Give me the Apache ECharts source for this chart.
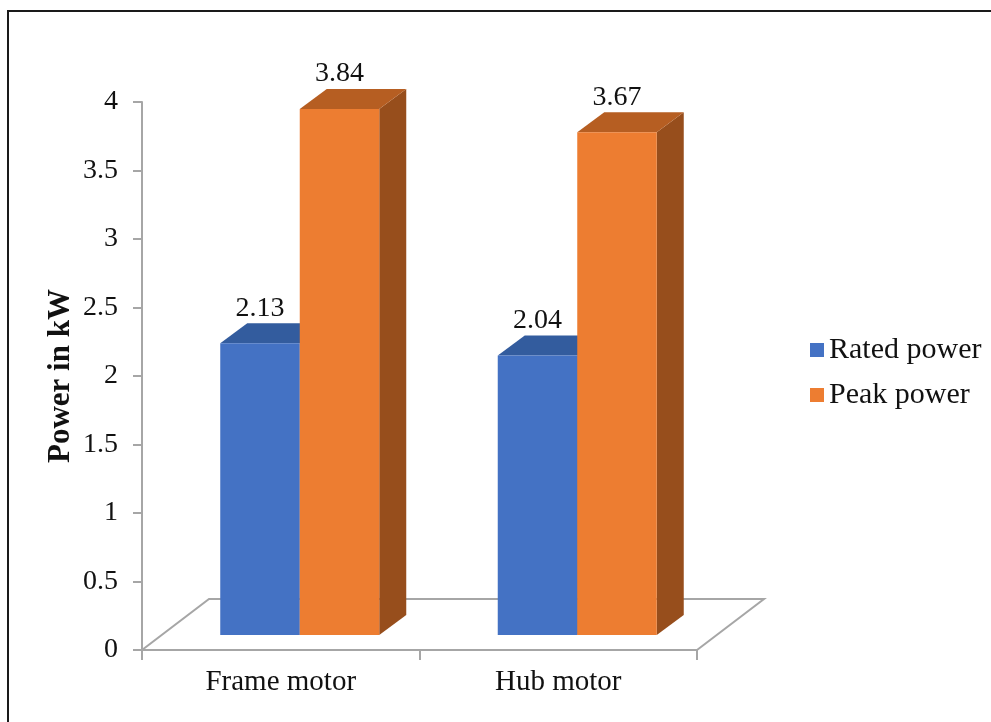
<!DOCTYPE html>
<html>
<head>
<meta charset="utf-8">
<script src="https://cdn.jsdelivr.net/npm/echarts@6/dist/echarts.min.js"></script>
<style>
html,body{margin:0;padding:0;background:#fff;}
#chart{width:991px;height:722px;}
</style>
</head>
<body>
<div id="chart"></div>
<script>
// ---- data ----
var categories = ['Frame motor', 'Hub motor'];
var seriesNames = ['Rated power', 'Peak power'];
var ratedPower = [2.13, 2.04];
var peakPower = [3.84, 3.67];
var yTicks = { min: 0, max: 4, interval: 0.5 };

// ---- style ----
var FONT = 'Liberation Serif';
var colors = {
  rated: { front: '#4472C4', top: '#335C9E', side: '#2E528F' },
  peak:  { front: '#ED7D31', top: '#B65E22', side: '#974E1C' }
};
var FX = 19, FY = -15;     // front-face offset from the floor front edge
var DX = 27, DY = -20;     // bar depth
var FLOOR_DX = 67, FLOOR_DY = -51;
var BAR_FRAC = 0.2865;     // bar width as fraction of category width

function makeRender(which, col) {
  return function (params, api) {
    var ci = api.value(0);
    var val = api.value(1);
    var base = api.coord([ci, 0]);
    var topP = api.coord([ci, val]);
    var catW = api.size([1, 0])[0];
    var bw = catW * BAR_FRAC;
    var cx = base[0] + FX;
    var x0 = which === 0 ? cx - bw : cx;
    var yb = base[1] + FY;
    var yt = topP[1] + FY;
    return {
      type: 'group',
      children: [
        { type: 'polygon', shape: { points: [[x0 + bw, yt], [x0 + bw + DX, yt + DY], [x0 + bw + DX, yb + DY], [x0 + bw, yb]] },
          style: { fill: col.side } },
        { type: 'polygon', shape: { points: [[x0, yt], [x0 + bw, yt], [x0 + bw + DX, yt + DY], [x0 + DX, yt + DY]] },
          style: { fill: col.top } },
        { type: 'rect', shape: { x: x0, y: yt, width: bw, height: yb - yt },
          style: { fill: col.front } },
        { type: 'text', x: x0 + bw / 2, y: yt + DY - 1,
          style: { text: val.toFixed(2), font: '28px "' + FONT + '"', fill: '#111', align: 'center', verticalAlign: 'bottom' } }
      ]
    };
  };
}

function floorRender(params, api) {
  if (params.dataIndex !== 0) return null;
  var cs = params.coordSys;
  var fl = [cs.x, cs.y + cs.height];
  var fr = [cs.x + cs.width, cs.y + cs.height];
  var br = [fr[0] + FLOOR_DX, fr[1] + FLOOR_DY];
  var bl = [fl[0] + FLOOR_DX, fl[1] + FLOOR_DY];
  return {
    type: 'polyline',
    shape: { points: [fl, bl, br, fr] },
    style: { stroke: '#A6A6A6', lineWidth: 2, fill: null }
  };
}

var chart = echarts.init(document.getElementById('chart'), null, { renderer: 'canvas' });
chart.setOption({
  backgroundColor: '#fff',
  animation: false,
  graphic: [{
    type: 'rect', shape: { x: 8, y: 11, width: 1000, height: 740 },
    style: { fill: null, stroke: '#1a1a1a', lineWidth: 2 }, z: 100
  }],
  grid: { left: 142, top: 102, width: 555, height: 548 },
  legend: {
    orient: 'vertical', left: 805, top: 330, itemWidth: 14, itemHeight: 14, itemGap: 15,
    icon: 'rect',
    textStyle: { fontFamily: FONT, fontSize: 30, color: '#111' },
    data: seriesNames
  },
  xAxis: {
    type: 'category', data: categories, boundaryGap: true,
    axisLine: { lineStyle: { color: '#A6A6A6', width: 2 } },
    axisTick: { show: true, length: 10, lineStyle: { color: '#A6A6A6', width: 2 } },
    axisLabel: { fontFamily: FONT, fontSize: 29, color: '#111', margin: 18 }
  },
  yAxis: {
    type: 'value', min: yTicks.min, max: yTicks.max, interval: yTicks.interval,
    name: 'Power in kW', nameLocation: 'middle', nameGap: 66, nameMoveOverlap: false,
    nameTextStyle: { fontFamily: FONT, fontSize: 31, fontWeight: 'bold', color: '#111' },
    axisLine: { show: true, lineStyle: { color: '#A6A6A6', width: 2 } },
    axisTick: { show: true, length: 9, lineStyle: { color: '#A6A6A6', width: 2 } },
    splitLine: { show: false },
    axisLabel: { fontFamily: FONT, fontSize: 28, color: '#111', margin: 24 }
  },
  series: [
    { type: 'custom', name: 'floor', renderItem: floorRender, data: [[0, 0]], z: 1, silent: true },
    { type: 'custom', name: seriesNames[0], itemStyle: { color: colors.rated.front },
      renderItem: makeRender(0, colors.rated), z: 2,
      data: categories.map(function (c, i) { return [i, ratedPower[i]]; }) },
    { type: 'custom', name: seriesNames[1], itemStyle: { color: colors.peak.front },
      renderItem: makeRender(1, colors.peak), z: 3,
      data: categories.map(function (c, i) { return [i, peakPower[i]]; }) }
  ]
});
</script>
</body>
</html>
